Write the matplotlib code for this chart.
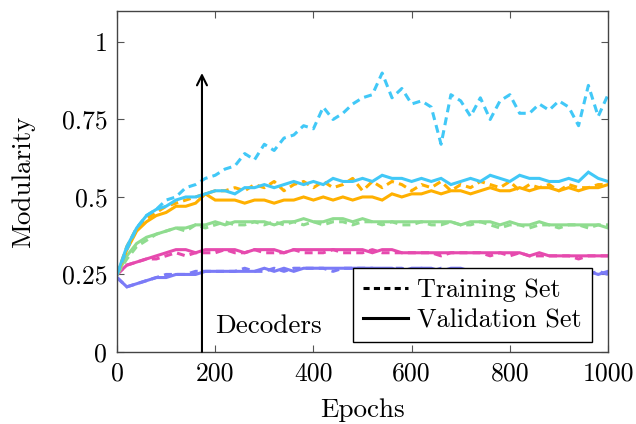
import numpy as np
import matplotlib
matplotlib.use("Agg")
import matplotlib.pyplot as plt
from matplotlib.lines import Line2D

plt.rcParams['font.family'] = ['cmr10', 'DejaVu Serif']
plt.rcParams['mathtext.fontset'] = 'cm'
plt.rcParams['axes.formatter.use_mathtext'] = True

# epochs, sampled every 20
epochs = np.arange(0, 1001, 20)

cyan_train = [0.25, 0.33, 0.40, 0.44, 0.46, 0.49, 0.50, 0.53, 0.54, 0.56,
              0.57, 0.59, 0.60, 0.64, 0.62, 0.67, 0.65, 0.69, 0.70, 0.73,
              0.72, 0.79, 0.75, 0.77, 0.80, 0.82, 0.83, 0.90, 0.82, 0.85,
              0.80, 0.81, 0.79, 0.67, 0.83, 0.81, 0.76, 0.82, 0.75, 0.81,
              0.83, 0.77, 0.77, 0.80, 0.78, 0.81, 0.79, 0.73, 0.86, 0.76,
              0.83]
cyan_val = [0.25, 0.34, 0.40, 0.44, 0.46, 0.47, 0.49, 0.50, 0.50, 0.51,
            0.52, 0.52, 0.51, 0.53, 0.53, 0.54, 0.53, 0.54, 0.55, 0.54,
            0.55, 0.54, 0.56, 0.55, 0.55, 0.56, 0.55, 0.57, 0.56, 0.56,
            0.55, 0.56, 0.55, 0.56, 0.54, 0.55, 0.56, 0.55, 0.57, 0.56,
            0.55, 0.57, 0.56, 0.56, 0.55, 0.55, 0.56, 0.55, 0.58, 0.56,
            0.55]
orange_train = [0.25, 0.34, 0.40, 0.43, 0.45, 0.47, 0.48, 0.49, 0.50, 0.51,
                0.52, 0.52, 0.53, 0.52, 0.54, 0.53, 0.55, 0.52, 0.54, 0.55,
                0.53, 0.55, 0.53, 0.54, 0.56, 0.52, 0.55, 0.53, 0.55, 0.54,
                0.52, 0.54, 0.53, 0.55, 0.52, 0.54, 0.53, 0.55, 0.54, 0.53,
                0.55, 0.52, 0.54, 0.53, 0.54, 0.52, 0.54, 0.53, 0.53, 0.54,
                0.54]
orange_val = [0.25, 0.33, 0.39, 0.42, 0.44, 0.45, 0.47, 0.47, 0.48, 0.51,
              0.49, 0.49, 0.49, 0.48, 0.49, 0.49, 0.48, 0.49, 0.49, 0.50,
              0.49, 0.50, 0.49, 0.50, 0.49, 0.50, 0.50, 0.49, 0.51, 0.50,
              0.51, 0.51, 0.52, 0.51, 0.52, 0.52, 0.51, 0.52, 0.53, 0.52,
              0.52, 0.53, 0.52, 0.53, 0.53, 0.52, 0.53, 0.52, 0.53, 0.53,
              0.54]
green_train = [0.25, 0.30, 0.34, 0.36, 0.38, 0.39, 0.40, 0.39, 0.41, 0.40,
               0.41, 0.42, 0.41, 0.41, 0.42, 0.41, 0.42, 0.41, 0.42, 0.41,
               0.42, 0.41, 0.42, 0.42, 0.41, 0.42, 0.42, 0.41, 0.42, 0.41,
               0.41, 0.42, 0.41, 0.41, 0.42, 0.41, 0.41, 0.42, 0.41, 0.40,
               0.41, 0.41, 0.40, 0.41, 0.41, 0.40, 0.41, 0.41, 0.40, 0.41,
               0.41]
green_val = [0.25, 0.31, 0.35, 0.37, 0.38, 0.39, 0.40, 0.40, 0.41, 0.41,
             0.42, 0.41, 0.42, 0.42, 0.42, 0.42, 0.41, 0.42, 0.42, 0.43,
             0.42, 0.42, 0.43, 0.43, 0.42, 0.43, 0.42, 0.42, 0.42, 0.42,
             0.42, 0.42, 0.42, 0.42, 0.42, 0.41, 0.42, 0.42, 0.42, 0.41,
             0.42, 0.41, 0.41, 0.42, 0.41, 0.41, 0.41, 0.41, 0.41, 0.41,
             0.40]
pink_train = [0.25, 0.28, 0.29, 0.30, 0.30, 0.31, 0.32, 0.31, 0.32, 0.32,
              0.32, 0.33, 0.32, 0.32, 0.33, 0.32, 0.32, 0.32, 0.33, 0.32,
              0.32, 0.32, 0.33, 0.32, 0.32, 0.32, 0.33, 0.32, 0.32, 0.32,
              0.32, 0.32, 0.32, 0.31, 0.32, 0.32, 0.32, 0.32, 0.31, 0.32,
              0.31, 0.32, 0.31, 0.31, 0.31, 0.31, 0.31, 0.30, 0.31, 0.31,
              0.31]
pink_val = [0.25, 0.28, 0.29, 0.30, 0.31, 0.32, 0.33, 0.33, 0.32, 0.33,
            0.33, 0.33, 0.33, 0.32, 0.33, 0.33, 0.33, 0.32, 0.33, 0.33,
            0.33, 0.33, 0.33, 0.33, 0.33, 0.33, 0.32, 0.33, 0.33, 0.32,
            0.32, 0.32, 0.32, 0.32, 0.32, 0.32, 0.32, 0.32, 0.32, 0.32,
            0.32, 0.32, 0.31, 0.32, 0.31, 0.31, 0.31, 0.31, 0.31, 0.31,
            0.31]
purple_train = [0.24, 0.21, 0.22, 0.23, 0.24, 0.25, 0.25, 0.25, 0.26, 0.26,
                0.26, 0.26, 0.26, 0.27, 0.26, 0.26, 0.27, 0.26, 0.27, 0.27,
                0.27, 0.27, 0.26, 0.27, 0.27, 0.27, 0.27, 0.26, 0.27, 0.27,
                0.26, 0.27, 0.26, 0.27, 0.26, 0.26, 0.26, 0.26, 0.26, 0.26,
                0.26, 0.26, 0.25, 0.26, 0.26, 0.26, 0.25, 0.26, 0.25, 0.26,
                0.25]
purple_val = [0.24, 0.21, 0.22, 0.23, 0.24, 0.24, 0.25, 0.25, 0.25, 0.26,
              0.26, 0.26, 0.26, 0.26, 0.26, 0.27, 0.26, 0.27, 0.26, 0.27,
              0.27, 0.27, 0.27, 0.27, 0.27, 0.27, 0.27, 0.27, 0.27, 0.26,
              0.27, 0.27, 0.27, 0.26, 0.27, 0.27, 0.26, 0.26, 0.26, 0.26,
              0.26, 0.26, 0.26, 0.26, 0.26, 0.26, 0.26, 0.26, 0.26, 0.25,
              0.26]

xticks = [0, 200, 400, 600, 800, 1000]
yticks = [0, 0.25, 0.5, 0.75, 1]
ytick_labels = ["0", "0.25", "0.5", "0.75", "1"]

c_purple = "#7b7bf7"
c_pink = "#e64aae"
c_green = "#8fdc8f"
c_orange = "#ffb000"
c_cyan = "#41c8f7"

fig = plt.figure(figsize=(6.36, 4.24), dpi=100)
ax = fig.add_axes([0.184, 0.170, 0.772, 0.804])

lw = 2.2
dash = (2.6, 1.7)
series = [
    (purple_train, purple_val, c_purple),
    (pink_train, pink_val, c_pink),
    (green_train, green_val, c_green),
    (orange_train, orange_val, c_orange),
    (cyan_train, cyan_val, c_cyan),
]
for tr, va, col in series:
    ax.plot(epochs, va, color=col, lw=lw, solid_joinstyle='miter')
    ax.plot(epochs, tr, color=col, lw=lw, linestyle=(0, dash))

ax.annotate("", xy=(173, 0.9), xytext=(173, 0),
            arrowprops=dict(arrowstyle="->", color="black", lw=1.5,
                            mutation_scale=18, shrinkA=0, shrinkB=0))
ax.text(199, 0.084, "Decoders", fontsize=19.5, ha="left", va="center")

ax.set_xlim(0, 1000)
ax.set_ylim(0, 1.1)
ax.set_xticks(xticks)
ax.set_xticklabels([str(t) for t in xticks])
ax.set_yticks(yticks)
ax.set_yticklabels(ytick_labels)
ax.tick_params(direction="in", length=5, width=0.8, top=True, right=True,
               labelsize=18.5, color="#555555", pad=7)
for s in ax.spines.values():
    s.set_color("#444444")
    s.set_linewidth(1.0)

ax.set_xlabel("Epochs", fontsize=19.5, va="center")
ax.set_ylabel("Modularity", fontsize=19.5, va="center")
ax.xaxis.set_label_coords(0.5, -0.170)
ax.yaxis.set_label_coords(-0.191, 0.5)

handles = [Line2D([0], [0], color="black", lw=2.2, linestyle=(0, (2.0, 1.4))),
           Line2D([0], [0], color="black", lw=2.2)]
leg = ax.legend(handles, ["Training Set", "Validation Set"], loc="lower right",
                bbox_to_anchor=(0.967, 0.029), borderaxespad=0,
                fontsize=18.8, fancybox=False, framealpha=1, edgecolor="black",
                borderpad=0.38, handlelength=1.73, handletextpad=0.35,
                labelspacing=0.25)
leg.get_frame().set_linewidth(1.0)

fig.savefig("out.png", dpi=100)
